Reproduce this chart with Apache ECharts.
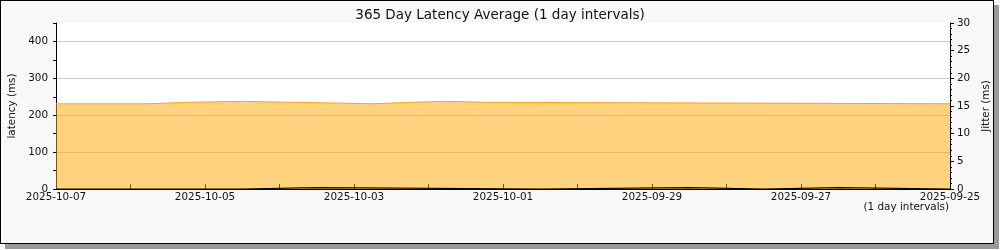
<!DOCTYPE html>
<html>
<head>
<meta charset="utf-8">
<script src="https://cdn.jsdelivr.net/npm/echarts@6/dist/echarts.min.js"></script>
<style>
  html, body { margin: 0; padding: 0; background: #ffffff; }
  #frame { position: absolute; left: 0; top: 0; width: 994px; height: 244px; box-sizing: border-box;
           border: 1px solid #000; background: #f8f8f8; box-shadow: 5px 5px 0 #9a9a9a; }
  #chart { position: absolute; left: 0; top: 0; width: 1000px; height: 250px; }
</style>
</head>
<body>
<div id="frame"></div>
<div id="chart"></div>
<script>
// x = days from 2025-10-07 (left edge) towards 2025-09-25 (right edge)
const dayLabels = ['2025-10-07', '2025-10-05', '2025-10-03', '2025-10-01', '2025-09-29', '2025-09-27', '2025-09-25'];
// latency step breakpoints (value held until next breakpoint)
const latencyDays = [0, 1.25, 1.75, 2.5, 3.5, 4.25, 4.75, 5.25, 5.75, 12];
const latencyMs   = [231, 235, 237.5, 234, 231, 235, 237.5, 235, 231, 231];
// jitter step breakpoints
const jitterDays = [0, 2.5, 3.5, 6.5, 8.5, 9.5, 10.5, 12];
const jitterMs   = [0, 0.25, 0, 0.25, 0, 0.25, 0, 0];

// build step paths: each value is held until the next breakpoint
function stepData(xs, ys) {
  const out = [];
  for (let i = 0; i < xs.length; i++) {
    if (i > 0) out.push([xs[i], ys[i - 1]]);
    out.push([xs[i], ys[i]]);
  }
  return out;
}
const latencyData = stepData(latencyDays, latencyMs);
const jitterData = stepData(jitterDays, jitterMs);

const FONT = 'DejaVu Sans';
const FS = 10.4;
const chart = echarts.init(document.getElementById('chart'), null, { renderer: 'canvas' });
chart.setOption({
  animation: false,
  backgroundColor: 'transparent',
  textStyle: { fontFamily: FONT },
  title: {
    text: '365 Day Latency Average (1 day intervals)',
    left: 'center', top: 3,
    textStyle: { fontFamily: FONT, fontSize: 13.5, fontWeight: 'normal', color: '#111' }
  },
  grid: { left: 56, top: 23, width: 894, height: 166, show: true, backgroundColor: '#ffffff',
          borderWidth: 0, containLabel: false, outerBoundsMode: 'none' },
  xAxis: {
    type: 'value', min: 0, max: 12, interval: 1,
    axisLine: { show: true, onZero: false, lineStyle: { color: '#000', width: 1 } },
    axisTick: { show: true, inside: true, length: 5, lineStyle: { color: '#000' } },
    axisLabel: {
      fontFamily: FONT, fontSize: FS, color: '#111', margin: 3,
      showMinLabel: true, showMaxLabel: true, hideOverlap: false,
      formatter: v => (v % 2 === 0 ? dayLabels[v / 2] : '')
    },
    splitLine: { show: false }
  },
  yAxis: [
    {
      type: 'value', min: 0, max: 450, interval: 50, position: 'left',
      name: 'latency (ms)', nameLocation: 'middle', nameGap: 33, nameRotate: 90,
      nameTextStyle: { fontFamily: FONT, fontSize: FS, color: '#111' },
      axisLine: { show: true, lineStyle: { color: '#000' } },
      axisTick: { show: true, length: 3, lineStyle: { color: '#000' } },
      axisLabel: { fontFamily: FONT, fontSize: FS, color: '#111', margin: 8,
        formatter: v => (v % 100 === 0 ? String(v) : '') },
      splitLine: { show: true, lineStyle: { color: ['#cccccc', 'rgba(0,0,0,0)'], width: 1 } }
    },
    {
      type: 'value', min: 0, max: 30, interval: 5, position: 'right',
      name: 'Jitter (ms)', nameLocation: 'middle', nameGap: 27, nameRotate: 90,
      nameTextStyle: { fontFamily: FONT, fontSize: FS, color: '#111' },
      axisLine: { show: true, lineStyle: { color: '#000' } },
      axisTick: { show: true, length: 4, lineStyle: { color: '#000' } },
      minorTick: { show: true, splitNumber: 5, length: 2, lineStyle: { color: '#000' } },
      axisLabel: { fontFamily: FONT, fontSize: FS, color: '#111', margin: 7 },
      splitLine: { show: false }
    }
  ],
  graphic: [
    { type: 'text', right: 51, top: 202,
      style: { text: '(1 day intervals)', font: FS + 'px "DejaVu Sans"', fill: '#111' } }
  ],
  series: [
    {
      name: 'latency', type: 'line', yAxisIndex: 0, data: latencyData,
      showSymbol: false, symbol: 'none', silent: true, smooth: false,
      lineStyle: { color: '#FFA500', width: 1, opacity: 1 },
      areaStyle: { color: 'rgba(255,165,0,0.5)', opacity: 1 }
    },
    {
      name: 'jitter', type: 'line', yAxisIndex: 1, data: jitterData,
      showSymbol: false, symbol: 'none', silent: true, smooth: false, z: 5,
      lineStyle: { color: '#000', width: 1.2, opacity: 1 }
    }
  ]
});
</script>
</body>
</html>
